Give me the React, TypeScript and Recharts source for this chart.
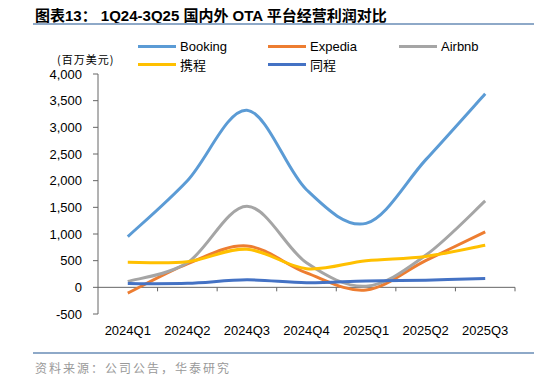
import React from "react";
import { LineChart, Line, XAxis, YAxis, ReferenceLine } from "recharts";

const quarters = ["2024Q1", "2024Q2", "2024Q3", "2024Q4", "2025Q1", "2025Q2", "2025Q3"];
const booking = [950, 2000, 3320, 1830, 1200, 2390, 3630];
const expedia = [-110, 440, 775, 270, -50, 500, 1040];
const airbnb = [110, 460, 1520, 460, 20, 600, 1620];
const ctrip = [470, 480, 715, 350, 500, 580, 790];
const tongcheng = [70, 75, 140, 85, 120, 135, 165];
const yTicks = [-500, 0, 500, 1000, 1500, 2000, 2500, 3000, 3500, 4000];

const series = [
  { key: "booking", name: "Booking", color: "#5B9BD5" },
  { key: "expedia", name: "Expedia", color: "#ED7D31" },
  { key: "airbnb", name: "Airbnb", color: "#A5A5A5" },
  { key: "ctrip", name: "携程", color: "#FFC000" },
  { key: "tongcheng", name: "同程", color: "#4472C4" },
];

const data = quarters.map((q, i) => ({
  q,
  booking: booking[i],
  expedia: expedia[i],
  airbnb: airbnb[i],
  ctrip: ctrip[i],
  tongcheng: tongcheng[i],
}));

// chart frame
const W = 534;
const H = 378;
const PLOT_TOP = 74;
const PLOT_BOTTOM = 314;
const Y_MIN = -500;
const Y_MAX = 4000;
const ZERO_Y = PLOT_TOP + ((Y_MAX - 0) / (Y_MAX - Y_MIN)) * (PLOT_BOTTOM - PLOT_TOP);
const AXIS = "#666";
const LATIN = '"Liberation Sans", Arial, "Noto Sans CJK SC", sans-serif';
const RULE = "#8EA9C8";

// Excel style smoothing (Catmull-Rom through the points)
const excelCurve = (ctx: any) => {
  let pts: number[][] = [];
  return {
    areaStart() {},
    areaEnd() {},
    lineStart() {
      pts = [];
    },
    point(x: number, y: number) {
      pts.push([+x, +y]);
    },
    lineEnd() {
      if (!pts.length) return;
      ctx.moveTo(pts[0][0], pts[0][1]);
      for (let i = 0; i < pts.length - 1; i++) {
        const p0 = pts[i - 1] || pts[i];
        const p1 = pts[i];
        const p2 = pts[i + 1];
        const p3 = pts[i + 2] || p2;
        ctx.bezierCurveTo(
          p1[0] + (p2[0] - p0[0]) / 6,
          p1[1] + (p2[1] - p0[1]) / 6,
          p2[0] - (p3[0] - p1[0]) / 6,
          p2[1] - (p3[1] - p1[1]) / 6,
          p2[0],
          p2[1]
        );
      }
    },
  };
};

const XTick = (props: any) => {
  const { x, y, payload, width, visibleTicksCount } = props;
  const half = width / (visibleTicksCount || quarters.length) / 2;
  return (
    <g>
      <line x1={x + half} x2={x + half} y1={ZERO_Y} y2={ZERO_Y + 4} stroke={AXIS} />
      <text x={x} y={y + 8} textAnchor="middle" dominantBaseline="central" fontSize={13} fill="#000" fontFamily={LATIN}>
        {payload.value}
      </text>
    </g>
  );
};

const legendPos = [
  { left: 138, top: 46 },
  { left: 268, top: 46 },
  { left: 399, top: 46 },
  { left: 138, top: 64 },
  { left: 268, top: 64 },
];

export default function App() {
  return (
    <div style={{ position: "absolute", left: 0, top: 0, width: W, height: H, background: "#fff", overflow: "hidden" }}>
      <div style={{ position: "absolute", left: 35, top: 4, fontSize: 15, fontWeight: "bold", fontFamily: LATIN, whiteSpace: "nowrap", color: "#000" }}>
        图表13：&nbsp;1Q24-3Q25 国内外 OTA 平台经营利润对比
      </div>
      <div style={{ position: "absolute", left: 33, top: 23, width: W - 33, height: 1.5, background: RULE }} />

      {series.map((s, i) => (
        <div key={s.key} style={{ position: "absolute", left: legendPos[i].left, top: legendPos[i].top - 9, height: 18, display: "flex", alignItems: "center", whiteSpace: "nowrap" }}>
          <div style={{ width: 38, height: 3, background: s.color, marginRight: 4 }} />
          <span style={{ fontSize: 13, fontFamily: LATIN, color: "#000" }}>{s.name}</span>
        </div>
      ))}
      <div style={{ position: "absolute", left: 57, top: 53, fontSize: 11, lineHeight: "13px", letterSpacing: 1, fontFamily: '"Noto Sans CJK SC", sans-serif', color: "#000", whiteSpace: "nowrap" }}>
        (百万美元)
      </div>

      <div style={{ position: "absolute", left: 0, top: 0 }}>
        <LineChart width={W} height={H} data={data} margin={{ top: PLOT_TOP, right: 19, bottom: H - PLOT_BOTTOM - 30, left: 38 }}>
          <XAxis dataKey="q" scale="band" axisLine={false} tickLine={false} tick={<XTick />} height={30} interval={0} />
          <YAxis
            domain={[Y_MIN, Y_MAX]}
            ticks={yTicks}
            width={60}
            interval={0}
            tickSize={5}
            tickMargin={11}
            axisLine={{ stroke: AXIS }}
            tickLine={{ stroke: AXIS }}
            tick={{ fontSize: 13, fill: "#000", fontFamily: LATIN }}
            tickFormatter={(v: number) => v.toLocaleString("en-US")}
          />
          <ReferenceLine y={0} stroke={AXIS} strokeWidth={1} />
          {series.map((s) => (
            <Line key={s.key} dataKey={s.key} name={s.name} type={excelCurve as any} stroke={s.color} strokeWidth={3} dot={false} isAnimationActive={false} />
          ))}
        </LineChart>
      </div>

      <div style={{ position: "absolute", left: 33, top: 352, width: W - 33, height: 1.5, background: RULE }} />
      <div style={{ position: "absolute", left: 35, top: 359, fontSize: 12, letterSpacing: 2, fontFamily: '"Noto Sans CJK SC", sans-serif', color: "#999", whiteSpace: "nowrap" }}>
        资料来源：公司公告，华泰研究
      </div>
    </div>
  );
}
